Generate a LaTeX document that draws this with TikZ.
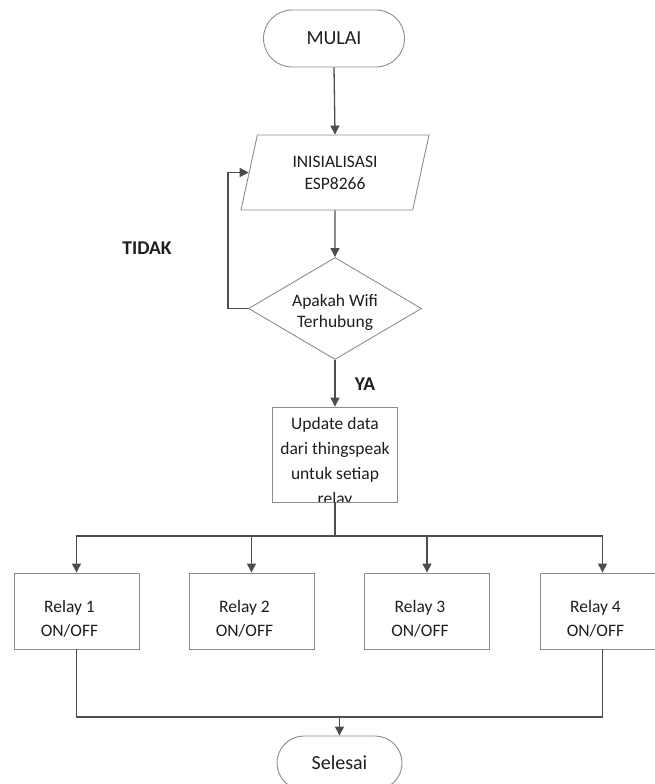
\documentclass[tikz,border=0pt]{standalone}
\usepackage{fontspec}
\setmainfont{Carlito}
\usepackage{xcolor}
\usepackage{tikz}
\usetikzlibrary{arrows.meta,positioning,shapes.geometric,shapes.misc}
\definecolor{linegray}{RGB}{77, 77, 77}
\definecolor{edgegray}{RGB}{140, 140, 140}
\definecolor{textgray}{RGB}{30, 30, 30}

\begin{document}
\begin{tikzpicture}[x=1pt, y=-1pt,
    every node/.style={font=\fontsize{17.5}{24}\selectfont, text=textgray},
    terminal/.style={rounded rectangle, draw=edgegray, line width=0.9pt, minimum width=141pt, minimum height=57pt, inner sep=0pt, font=\fontsize{20}{24}\selectfont},
    inputbox/.style={trapezium, trapezium left angle=64, trapezium right angle=116, trapezium stretches body, draw=edgegray, line width=0.9pt, minimum width=188pt, minimum height=75pt, inner sep=0pt, align=center, font=\fontsize{17.5}{22}\selectfont},
    decision/.style={diamond, aspect=1.7, draw=edgegray, line width=0.9pt, minimum width=173pt, minimum height=102pt, inner sep=0pt},
    process/.style={rectangle, draw=edgegray, line width=0.9pt, minimum width=125pt, minimum height=76pt, inner sep=0pt, align=center},
    answer/.style={font=\fontsize{19.5}{23}\selectfont\bfseries},
    flow/.style={draw=linegray, line width=1.3pt},
    flowarrow/.style={flow, -{Triangle[length=9pt, width=9pt]}}]
    \useasboundingbox (0,0) rectangle (654,784);

    \node[terminal] (mulai) at (334,38.5) {MULAI};
    \node[inputbox] (init) at (335,172.5) {INISIALISASI\\ESP8266};
    \node[decision, path picture={
        \node[align=center, font=\fontsize{17.5}{21}\selectfont] (cektext) at ([yshift=-4pt]path picture bounding box.center) {Apakah Wifi\\Terhubung};
    }] (cek) at (335,308.5) {};
    \node[process, minimum height=95pt, path picture={
        \node[align=center, font=\fontsize{17.5}{25}\selectfont] (updtext) at ([yshift=-8pt]path picture bounding box.center) {Update data\\dari thingspeak\\untuk setiap\\relay};
    }] (update) at (335,454.5) {};

    \node[answer] (tidak) at (147,248) {TIDAK};
    \node[answer] (ya) at (365,384) {YA};

    \foreach \i/\x in {1/76.5, 2/251.5, 3/427, 4/602.5}
        \node[process, path picture={
            \node[align=center] (relaytext\i) at ([shift={(-7pt,-8pt)}]path picture bounding box.center) {Relay \i\\ON/OFF};
        }] (relay\i) at (\x,611) {};

    \node[terminal, minimum width=125pt, minimum height=54pt] (selesai) at (339.5,763) {Selesai};

    % connectors
    \draw[flowarrow] (mulai.south) -- (init.north);
    \draw[flowarrow] (init.south) -- (cek.north);
    \draw[flowarrow] (cek.west) -- ++(-20,0) |- (init.left side);
    \draw[flowarrow] (cek.south) -- (update.north);

    \coordinate (split) at (335,536);
    \draw[flow] (update.south) -- (split);
    \foreach \i in {1,...,4}
        \draw[flowarrow] (split) -| (relay\i.north);

    \coordinate (merge) at (339.5,717);
    \draw[flow] (relay1.south) |- (relay4.south |- merge) -- (relay4.south);
    \draw[flowarrow] (merge) -- (selesai.north);
\end{tikzpicture}
\end{document}
